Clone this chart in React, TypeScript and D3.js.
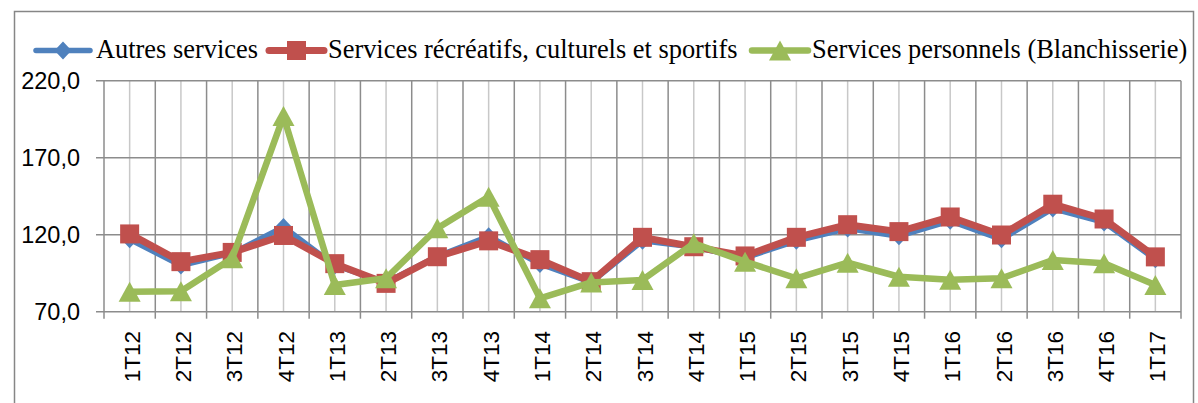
import React from "react";
import * as d3 from "d3";

const categories = ["1T12","2T12","3T12","4T12","1T13","2T13","3T13","4T13","1T14","2T14","3T14","4T14","1T15","2T15","3T15","4T15","1T16","2T16","3T16","4T16","1T17"];
const autresServices = [117,100,108,125,100,89,106,119,101,89,116,112,105,116,124,119,129,117,137,128,104];
const servicesRecreatifs = [120.5,102.5,108.5,119.5,101.2,88.4,105.7,116,103.8,89.5,118.3,112.2,106.2,118.3,126.5,122,131.5,119.8,139.8,130.2,105.6];
const servicesPersonnels = [83,83.3,104.7,197,87.3,91.7,124.2,144.7,78.7,89,90.6,114.4,102.5,91.7,101.8,92.7,90.8,91.7,103.6,101.4,87.3];
const yTicks = [70,120,170,220];
const seriesNames = ["Autres services","Services récréatifs, culturels et sportifs","Services personnels (Blanchisserie)"];

const W = 1198, H = 403;
const plot = { left: 104, right: 1181, top: 80.7, bottom: 311.7 };

const COLORS = ["#4F81BD", "#C0504D", "#9BBB59"];

function Marker({ kind, x, y, color }: { kind: number; x: number; y: number; color: string }) {
  if (kind === 0) {
    const w = 8.5, h = 9;
    return <path d={`M${x},${y - h}L${x + w},${y}L${x},${y + h}L${x - w},${y}Z`} fill={color} />;
  }
  if (kind === 1) {
    const s = 9.5;
    return <rect x={x - s} y={y - s} width={2 * s} height={2 * s} fill={color} />;
  }
  const w = 11, h = 10;
  return <path d={`M${x},${y - h}L${x + w},${y + h}L${x - w},${y + h}Z`} fill={color} />;
}

export default function App() {
  const x = d3.scaleBand<string>().domain(categories).range([plot.left, plot.right]).paddingInner(0).paddingOuter(0);
  const y = d3.scaleLinear().domain([70, 220]).range([plot.bottom, plot.top]);
  const cx = (c: string) => (x(c) as number) + x.bandwidth() / 2;
  const fmt = (v: number) => d3.format(".1f")(v).replace(".", ",");
  const series = [autresServices, servicesRecreatifs, servicesPersonnels];
  const widths = [5.5, 7, 6.5];
  const line = d3.line<number>().x((_, i) => cx(categories[i])).y((v) => y(v));
  const boundaries = categories.map((c) => x(c) as number).concat([plot.right]);

  const legend = [
    { lx1: 36, lx2: 90, tx: 96 },
    { lx1: 269, lx2: 324, tx: 328 },
    { lx1: 752, lx2: 808, tx: 812 },
  ];
  const legendY = 50.5;

  return (
    <svg width={W} height={H} style={{ position: "absolute", left: 0, top: 0, background: "#fff" }}>
      <rect x={14.5} y={11.5} width={1179} height={420} fill="#fff" stroke="#868686" strokeWidth={1.5} />
      {categories.map((c) => (
        <line key={"m" + c} x1={cx(c)} x2={cx(c)} y1={plot.top} y2={plot.bottom} stroke="#c8c8c8" strokeWidth={1.5} />
      ))}
      {boundaries.map((b, i) => (
        <line key={"b" + i} x1={b} x2={b} y1={plot.top} y2={plot.bottom + 7} stroke="#8c8c8c" strokeWidth={1.5} />
      ))}
      {yTicks.map((t) => (
        <line key={"h" + t} x1={plot.left - 8} x2={plot.right} y1={y(t)} y2={y(t)} stroke="#8c8c8c" strokeWidth={1.5} />
      ))}
      {yTicks.map((t) => (
        <text key={"yl" + t} x={80} y={y(t)} dy="0.36em" textAnchor="end" fontFamily="'Liberation Sans', Arial, sans-serif" fontSize={23.5} fill="#000">
          {fmt(t)}
        </text>
      ))}
      {categories.map((c) => (
        <text key={"xl" + c} transform={`translate(${cx(c) + 2},331) rotate(-90)`} dy="0.36em" textAnchor="end" fontFamily="'Liberation Sans', Arial, sans-serif" fontSize={22.5} fill="#000">
          {c}
        </text>
      ))}
      {series.map((s, k) => (
        <g key={"s" + k}>
          <path d={line(s) as string} fill="none" stroke={COLORS[k]} strokeWidth={widths[k]} strokeLinejoin="round" />
          {s.map((v, i) => (
            <Marker key={i} kind={k} x={cx(categories[i])} y={y(v)} color={COLORS[k]} />
          ))}
        </g>
      ))}
      {legend.map((l, k) => (
        <g key={"lg" + k}>
          <line x1={l.lx1} x2={l.lx2} y1={legendY} y2={legendY} stroke={COLORS[k]} strokeWidth={widths[k]} strokeLinecap="round" />
          <Marker kind={k} x={(l.lx1 + l.lx2) / 2} y={legendY} color={COLORS[k]} />
          <text x={l.tx} y={58.3} fontFamily="'Liberation Serif', 'Times New Roman', serif" fontSize={26.4} fill="#000">
            {seriesNames[k]}
          </text>
        </g>
      ))}
    </svg>
  );
}
